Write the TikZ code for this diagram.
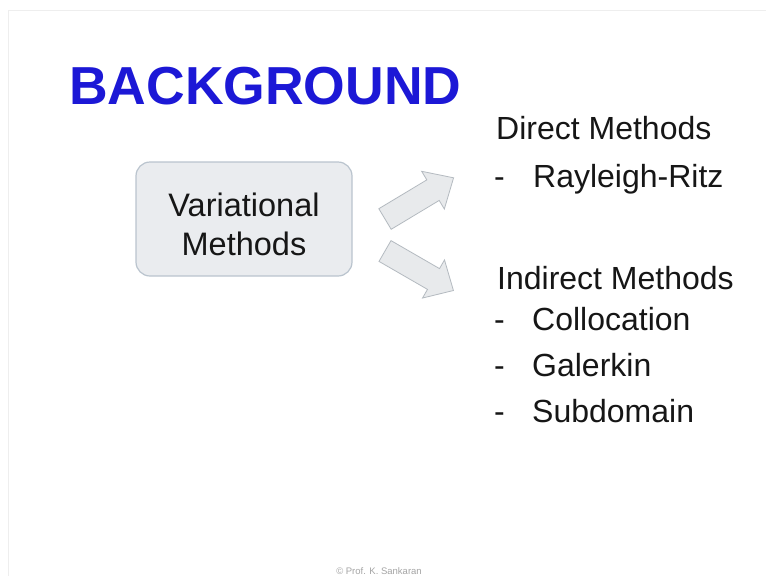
\documentclass[tikz,border=0pt]{standalone}
\usepackage{fontspec}
\setmainfont{Liberation Sans}
\definecolor{titleblue}{RGB}{28,24,214}
\definecolor{boxfill}{RGB}{234,236,239}
\definecolor{boxline}{RGB}{186,196,206}
\definecolor{arrowfill}{RGB}{232,234,236}
\definecolor{arrowline}{RGB}{180,186,192}
\definecolor{txt}{RGB}{22,22,22}
\definecolor{framegray}{RGB}{238,238,238}
\definecolor{footgray}{RGB}{165,165,165}
\tikzset{
  bodytext/.style={anchor=base west, inner sep=0pt, text=txt, font=\fontsize{32}{38}\selectfont},
  blockarrow/.style={fill=arrowfill, draw=arrowline, line width=0.8pt, line join=miter},
}
\newcommand{\blockarrowshape}[3]{%
  \begin{scope}[shift={(#1)}, rotate=#2]
    \draw[blockarrow] (0,-12) -- (56,-12) -- (56,-22) -- (#3,0) -- (56,22) -- (56,12) -- (0,12) -- cycle;
  \end{scope}}
\begin{document}
\begin{tikzpicture}[x=1pt,y=-1pt]
\useasboundingbox (0,0) rectangle (766,576);
\fill[white] (0,0) rectangle (766,576);
\draw[framegray, line width=1pt] (8,576) -- (8,10) -- (766,10);

\node[anchor=base west, inner sep=0pt, text=titleblue, font=\fontsize{53.5}{60}\selectfont\bfseries] (title) at (69,104) {BACKGROUND};

\node[draw=boxline, fill=boxfill, line width=1.2pt, rounded corners=14pt,
      minimum width=216pt, minimum height=114pt, inner sep=0pt] (box) at (244,219) {};
\node[align=center, inner sep=0pt, text=txt, font=\fontsize{32.5}{39}\selectfont] (boxtext) at (244,224) {Variational\\Methods};

\coordinate (up) at (385,219);
\coordinate (down) at (385,251);
\blockarrowshape{up}{31}{80}
\blockarrowshape{down}{-30}{79}

\node[bodytext] (direct) at (496,139) {Direct Methods};
\node[bodytext] (d1) at (494,187) {-};
\node[bodytext] (rr) at (533,187) {Rayleigh-Ritz};

\node[bodytext] (indirect) at (497,289) {Indirect Methods};
\node[bodytext] (d2) at (494,330) {-};
\node[bodytext] (col) at (532,330) {Collocation};
\node[bodytext] (d3) at (494,376) {-};
\node[bodytext] (gal) at (532,376) {Galerkin};
\node[bodytext] (d4) at (494,422) {-};
\node[bodytext] (sub) at (532,422) {Subdomain};

\node[anchor=base, inner sep=0pt, text=footgray, font=\fontsize{9.5}{11}\selectfont] (foot) at (379,574) {\textcopyright\ Prof. K. Sankaran};
\end{tikzpicture}
\end{document}
